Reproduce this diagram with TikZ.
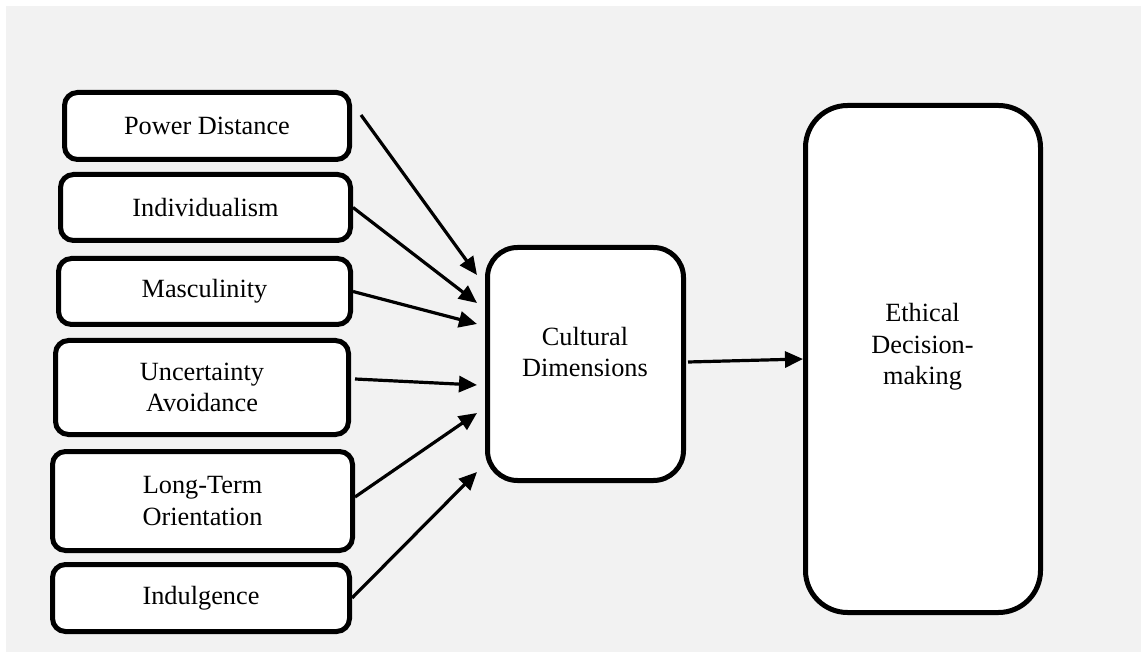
\documentclass[tikz,border=0pt]{standalone}
\usepackage{fontspec}
\setmainfont{Liberation Serif}
\usetikzlibrary{arrows.meta,calc}
\definecolor{panelgray}{HTML}{F2F2F2}
\begin{document}
\begin{tikzpicture}[x=1pt,y=-1pt,
  every node/.style={font=\fontsize{26.3}{31.5}\selectfont},
  dimbox/.style={draw=black, fill=white, line width=5pt, rounded corners=13pt,
                 align=center, inner sep=0pt},
  bigbox/.style={dimbox, rounded corners=30pt},
  hugebox/.style={dimbox, rounded corners=42pt},
  caption/.style={align=center, inner sep=0pt},
  arr/.style={line width=3.2pt, -{Triangle[length=18pt,width=16pt]}}]

% page and grey panel
\useasboundingbox (0,0) rectangle (1141,652);
\fill[white] (0,0) rectangle (1141,652);
\fill[panelgray] (6,6) rectangle (1141,652);

% the six dimensions
\node[dimbox, minimum width=285pt, minimum height=67pt] (pd)   at (207,126)   {Power Distance};
\node[dimbox, minimum width=290pt, minimum height=66pt] (ind)  at (205.5,207.5) {Individualism};
\node[dimbox, minimum width=292pt, minimum height=66pt] (mas)  at (204.5,291.5) {Masculinity};
\node[dimbox, minimum width=293pt, minimum height=94pt] (ua)   at (202,387.5) {Uncertainty\\Avoidance};
\node[dimbox, minimum width=300pt, minimum height=99pt] (lto)  at (202.5,501) {Long-Term\\Orientation};
\node[dimbox, minimum width=297pt, minimum height=67pt] (indu) at (201,598)   {Indulgence};

% central and outcome boxes
\node[bigbox, minimum width=196pt, minimum height=233pt] (cd) at (585.5,364) {};
\node[caption] (cdtext) at (585,352) {Cultural\\Dimensions};
\node[hugebox, minimum width=235pt, minimum height=507pt] (ed) at (923,359) {};
\node[caption] (edtext) at (922.5,347) {Ethical\\Decision-\\making};

% connectors
\draw[arr] ($(pd.east)+(9,-11)$)  -- ($(cd.west)+(-8,-89)$);
\draw[arr] (ind.east)             -- ($(cd.west)+(-8,-61)$);
\draw[arr] (mas.east)             -- ($(cd.west)+(-8,-40)$);
\draw[arr] ($(ua.east)+(4,-8.5)$) -- ($(cd.west)+(-8,21)$);
\draw[arr] ($(lto.east)+(0,-4)$)  -- ($(cd.west)+(-8,49)$);
\draw[arr] (indu.east)            -- ($(cd.west)+(-8,108)$);
\draw[arr] ($(cd.east)+(2,-2)$)   -- (ed.west);
\end{tikzpicture}
\end{document}
